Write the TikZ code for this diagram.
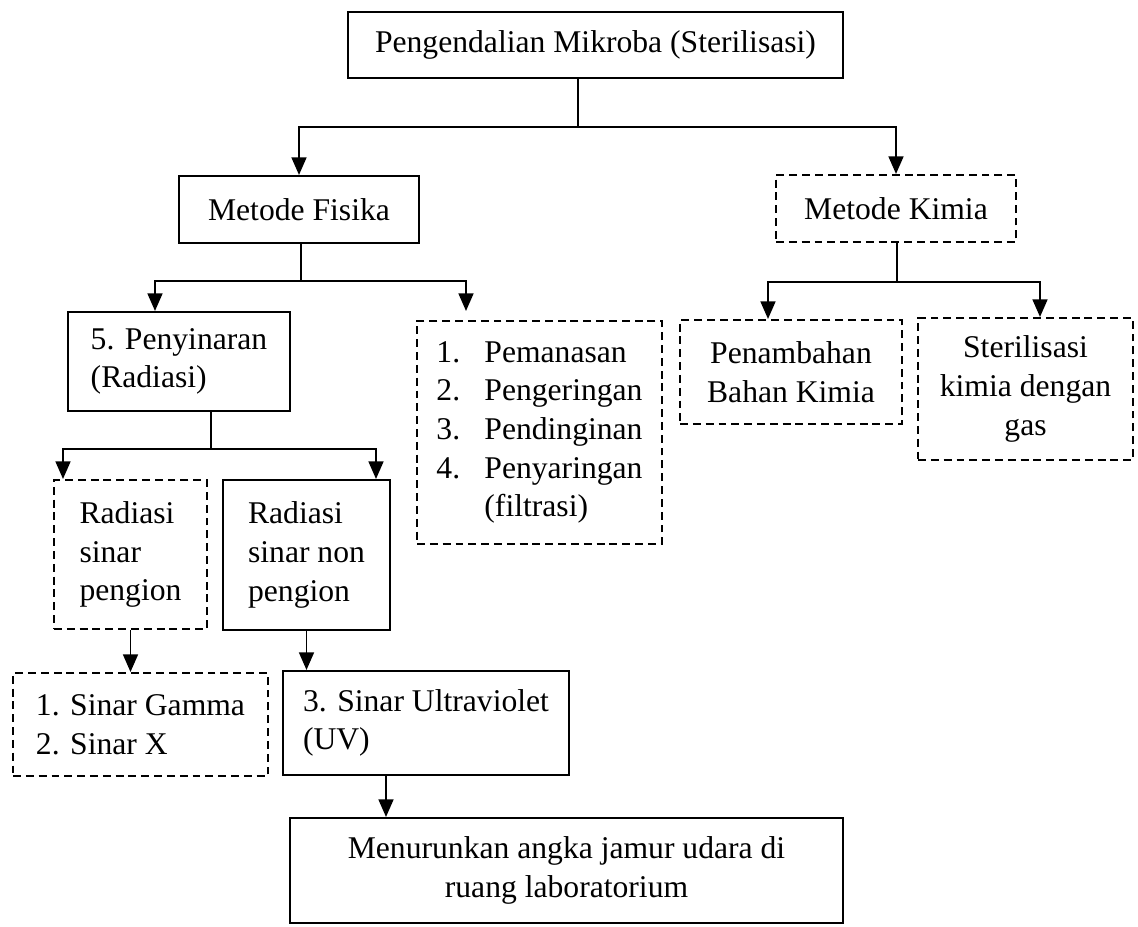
\documentclass[tikz,border=0pt]{standalone}
\usepackage{fontspec}
\setmainfont{Liberation Serif}
\usetikzlibrary{arrows.meta,calc}

\begin{document}
\begin{tikzpicture}[
  x=0.02cm, y=-0.02cm,
  box/.style={draw, line width=1.2pt, inner sep=0pt, align=center, font=\fontsize{18}{22}\selectfont},
  dbox/.style={box, dash pattern=on 4.5pt off 2.8pt},
  stem/.style={line width=0.6pt},
  arr/.style={line width=1pt, -{Triangle[width=8.5pt,length=10pt]}}
]
\useasboundingbox (0,0) rectangle (1138,926);

\node[box, minimum width=9.9cm, minimum height=1.32cm] (steril) at (595.5,45) {Pengendalian Mikroba (Sterilisasi)};
\node[box, minimum width=4.8cm, minimum height=1.34cm] (fisika) at (299,209.5) {Metode Fisika};
\node[dbox, minimum width=4.8cm, minimum height=1.34cm] (kimia) at (896,208.5) {Metode Kimia};

\node[box, align=left, minimum width=4.44cm, minimum height=1.98cm] (sinar) at (179,361.5) {5. Penyinaran\\(Radiasi)};
\node[dbox, align=left, minimum width=4.9cm, minimum height=4.46cm] (cara) at (539.5,432.5) {\makebox[0.96cm][l]{1.}Pemanasan\\\makebox[0.96cm][l]{2.}Pengeringan\\\makebox[0.96cm][l]{3.}Pendinginan\\\makebox[0.96cm][l]{4.}Penyaringan\\\hspace*{0.96cm}(filtrasi)};
\node[dbox, minimum width=4.44cm, minimum height=2.08cm] (tambah) at (791,372) {Penambahan\\Bahan Kimia};
\node[dbox, minimum width=4.3cm, minimum height=2.84cm] (gas) at (1025.5,389) {Sterilisasi\\kimia dengan\\gas};

\node[dbox, align=left, minimum width=3.06cm, minimum height=2.98cm] (ion) at (130.5,554.5) {Radiasi\\sinar\\pengion};
\node[box, align=left, minimum width=3.34cm, minimum height=3.0cm] (nonion) at (306.5,555) {Radiasi\\sinar non\\pengion};

\node[dbox, align=left, minimum width=5.1cm, minimum height=2.06cm] (gamma) at (140.5,724.5) {1. Sinar Gamma\\2. Sinar X};
\node[box, align=left, minimum width=5.72cm, minimum height=2.08cm] (uv) at (426,723) {3. Sinar Ultraviolet\\(UV)};
\node[box, minimum width=11.06cm, minimum height=2.1cm] (hasil) at (566.5,870.5) {Menurunkan angka jamur udara di\\ruang laboratorium};

\coordinate (sj) at (578,127);
\draw[stem] (steril.south -| sj) -- (sj);
\draw[arr] (sj) -| (fisika.north);
\draw[arr] (sj) -| (kimia.north);

\coordinate (fj) at (301,281);
\draw[stem] (fisika.south -| fj) -- (fj);
\draw[arr] (fj) -| ($(sinar.north)+(-24,0)$);
\draw[arr, shorten >=0.18cm] (fj) -| ($(cara.north)+(-73.5,0)$);

\coordinate (kj) at (897,282);
\draw[stem] (kimia.south -| kj) -- (kj);
\draw[arr] (kj) -| ($(tambah.north)+(-23,0)$);
\draw[arr] (kj) -| ($(gas.north)+(14.5,0)$);

\coordinate (pj) at (211,449);
\draw[stem] (sinar.south -| pj) -- (pj);
\draw[arr] (pj) -| ($(ion.north)+(-67.5,0)$);
\draw[arr] (pj) -| ($(nonion.north)+(69.5,0)$);

\draw[arr] (ion.south) -- (ion.south |- gamma.north);
\draw[arr] (nonion.south) -- (nonion.south |- uv.north);
\coordinate (uvout) at ($(uv.south)+(-40,0)$);
\draw[arr] (uvout) -- (uvout |- hasil.north);

\end{tikzpicture}
\end{document}
